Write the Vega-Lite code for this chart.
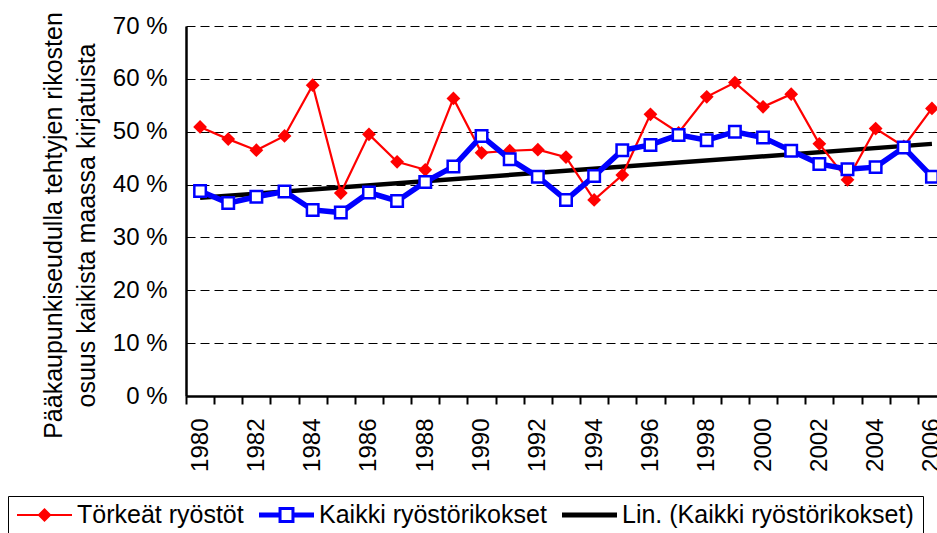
{
  "$schema": "https://vega.github.io/schema/vega-lite/v6.json",
  "autosize": "none",
  "padding": {"left": 186, "top": 26, "right": 0, "bottom": 137},
  "width": 751,
  "height": 370,
  "background": "white",
  "config": {
    "font": "Liberation Sans",
    "view": {"stroke": null},
    "axis": {"labelFont": "Liberation Sans", "titleFont": "Liberation Sans", "labelColor": "#000", "titleColor": "#000", "domainColor": "#000", "tickColor": "#000"},
    "legend": {"labelFont": "Liberation Sans"}
  },
  "data": {
    "values": [
      {"year": 1980, "series": "Törkeät ryöstöt", "value": 50.9},
      {"year": 1981, "series": "Törkeät ryöstöt", "value": 48.6},
      {"year": 1982, "series": "Törkeät ryöstöt", "value": 46.5},
      {"year": 1983, "series": "Törkeät ryöstöt", "value": 49.2},
      {"year": 1984, "series": "Törkeät ryöstöt", "value": 58.8},
      {"year": 1985, "series": "Törkeät ryöstöt", "value": 38.4},
      {"year": 1986, "series": "Törkeät ryöstöt", "value": 49.5},
      {"year": 1987, "series": "Törkeät ryöstöt", "value": 44.3},
      {"year": 1988, "series": "Törkeät ryöstöt", "value": 42.8},
      {"year": 1989, "series": "Törkeät ryöstöt", "value": 56.3},
      {"year": 1990, "series": "Törkeät ryöstöt", "value": 46.0},
      {"year": 1991, "series": "Törkeät ryöstöt", "value": 46.4},
      {"year": 1992, "series": "Törkeät ryöstöt", "value": 46.6},
      {"year": 1993, "series": "Törkeät ryöstöt", "value": 45.2},
      {"year": 1994, "series": "Törkeät ryöstöt", "value": 37.1},
      {"year": 1995, "series": "Törkeät ryöstöt", "value": 41.8},
      {"year": 1996, "series": "Törkeät ryöstöt", "value": 53.3},
      {"year": 1997, "series": "Törkeät ryöstöt", "value": 49.8},
      {"year": 1998, "series": "Törkeät ryöstöt", "value": 56.6},
      {"year": 1999, "series": "Törkeät ryöstöt", "value": 59.3},
      {"year": 2000, "series": "Törkeät ryöstöt", "value": 54.7},
      {"year": 2001, "series": "Törkeät ryöstöt", "value": 57.1},
      {"year": 2002, "series": "Törkeät ryöstöt", "value": 47.7},
      {"year": 2003, "series": "Törkeät ryöstöt", "value": 40.9},
      {"year": 2004, "series": "Törkeät ryöstöt", "value": 50.6},
      {"year": 2005, "series": "Törkeät ryöstöt", "value": 47.2},
      {"year": 2006, "series": "Törkeät ryöstöt", "value": 54.4},
      {"year": 1980, "series": "Kaikki ryöstörikokset", "value": 38.8},
      {"year": 1981, "series": "Kaikki ryöstörikokset", "value": 36.5},
      {"year": 1982, "series": "Kaikki ryöstörikokset", "value": 37.7},
      {"year": 1983, "series": "Kaikki ryöstörikokset", "value": 38.7},
      {"year": 1984, "series": "Kaikki ryöstörikokset", "value": 35.2},
      {"year": 1985, "series": "Kaikki ryöstörikokset", "value": 34.7},
      {"year": 1986, "series": "Kaikki ryöstörikokset", "value": 38.5},
      {"year": 1987, "series": "Kaikki ryöstörikokset", "value": 36.9},
      {"year": 1988, "series": "Kaikki ryöstörikokset", "value": 40.5},
      {"year": 1989, "series": "Kaikki ryöstörikokset", "value": 43.4},
      {"year": 1990, "series": "Kaikki ryöstörikokset", "value": 49.2},
      {"year": 1991, "series": "Kaikki ryöstörikokset", "value": 44.8},
      {"year": 1992, "series": "Kaikki ryöstörikokset", "value": 41.5},
      {"year": 1993, "series": "Kaikki ryöstörikokset", "value": 37.1},
      {"year": 1994, "series": "Kaikki ryöstörikokset", "value": 41.6},
      {"year": 1995, "series": "Kaikki ryöstörikokset", "value": 46.5},
      {"year": 1996, "series": "Kaikki ryöstörikokset", "value": 47.5},
      {"year": 1997, "series": "Kaikki ryöstörikokset", "value": 49.4},
      {"year": 1998, "series": "Kaikki ryöstörikokset", "value": 48.4},
      {"year": 1999, "series": "Kaikki ryöstörikokset", "value": 50.0},
      {"year": 2000, "series": "Kaikki ryöstörikokset", "value": 48.9},
      {"year": 2001, "series": "Kaikki ryöstörikokset", "value": 46.4},
      {"year": 2002, "series": "Kaikki ryöstörikokset", "value": 43.9},
      {"year": 2003, "series": "Kaikki ryöstörikokset", "value": 42.9},
      {"year": 2004, "series": "Kaikki ryöstörikokset", "value": 43.3},
      {"year": 2005, "series": "Kaikki ryöstörikokset", "value": 47.0},
      {"year": 2006, "series": "Kaikki ryöstörikokset", "value": 41.5},
      {"year": 1980, "series": "Lin. (Kaikki ryöstörikokset)", "value": 37.5},
      {"year": 2006, "series": "Lin. (Kaikki ryöstörikokset)", "value": 47.7}
    ]
  },
  "layer": [
    {
      "transform": [{"filter": "datum.series === 'Lin. (Kaikki ryöstörikokset)'"}],
      "mark": {"type": "line", "strokeWidth": 4.5, "clip": false},
      "encoding": {
        "x": {
          "field": "year", "type": "quantitative",
          "scale": {"domain": [1979.5, 2006.18], "nice": false, "zero": false},
          "axis": {
            "orient": "bottom",
            "values": [1979.5, 1980.5, 1981.5, 1982.5, 1983.5, 1984.5, 1985.5, 1986.5, 1987.5, 1988.5, 1989.5, 1990.5, 1991.5, 1992.5, 1993.5, 1994.5, 1995.5, 1996.5, 1997.5, 1998.5, 1999.5, 2000.5, 2001.5, 2002.5, 2003.5, 2004.5, 2005.5],
            "labels": false, "ticks": true, "tickSize": 8, "tickWidth": 2, "tickColor": "#000",
            "domain": true, "domainWidth": 2.5, "domainColor": "#000", "grid": false, "title": null
          }
        },
        "y": {
          "field": "value", "type": "quantitative",
          "scale": {"domain": [0, 70], "nice": false},
          "axis": {
            "values": [0, 10, 20, 30, 40, 50, 60, 70],
            "labelExpr": "datum.value + ' %'",
            "labelFontSize": 24, "labelPadding": 19,
            "ticks": false, "tickSize": 0,
            "domain": true, "domainWidth": 2.5, "domainColor": "#000",
            "grid": true, "gridColor": "#000", "gridDash": [9, 5], "gridWidth": 1, "gridOpacity": 1,
            "title": ["Pääkaupunkiseudulla tehtyjen rikosten", "osuus kaikista maassa kirjatuista"],
            "titleFontSize": 25, "titleFontWeight": "normal", "titleColor": "#000",
            "titleAngle": 270, "titleAlign": "center", "titleBaseline": "alphabetic",
            "titleX": -125, "titleY": 199, "titleLineHeight": 33
          }
        },
        "color": {
          "field": "series", "type": "nominal",
          "scale": {
            "domain": ["Törkeät ryöstöt", "Kaikki ryöstörikokset", "Lin. (Kaikki ryöstörikokset)"],
            "range": ["#FF0000", "#0000FF", "#000000"]
          },
          "legend": {
            "orient": "none", "legendX": -178, "legendY": 470,
            "direction": "horizontal", "columns": 3,
            "title": null, "padding": 9,
            "strokeColor": "#000", "fillColor": "#FFFFFF",
            "symbolSize": 3025, "symbolOffset": 0, "symbolStrokeWidth": 0, "clipHeight": 20,
            "labelFontSize": 25, "labelColor": "#000", "labelOffset": 5, "labelLimit": 600,
            "columnPadding": 15,
            "encode": {
              "symbols": {
                "update": {
                  "shape": {"signal": "datum.value === 'Törkeät ryöstöt' ? 'M-1,-0.04H1V0.04H-1ZM-0.255,0L0,-0.255L0.255,0L0,0.255Z' : datum.value === 'Kaikki ryöstörikokset' ? 'M-1,-0.09H-0.29V0.09H-1ZM0.29,-0.09H1V0.09H0.29ZM-0.29,-0.29H0.29V0.29H-0.29ZM-0.18,-0.18V0.18H0.18V-0.18Z' : 'M-1,-0.087H1V0.087H-1Z'"},
                  "fill": {"signal": "datum.value === 'Törkeät ryöstöt' ? '#FF0000' : datum.value === 'Kaikki ryöstörikokset' ? '#0000FF' : '#000000'"},
                  "fillOpacity": {"value": 1},
                  "strokeWidth": {"value": 0},
                  "size": {"value": 3025},
                  "opacity": {"value": 1}
                }
              }
            }
          }
        }
      }
    },
    {
      "transform": [{"filter": "datum.series === 'Törkeät ryöstöt'"}],
      "mark": {"type": "line", "strokeWidth": 2.2, "clip": false},
      "encoding": {
        "x": {
          "field": "year", "type": "quantitative",
          "axis": {
            "orient": "bottom",
            "values": [1980, 1982, 1984, 1986, 1988, 1990, 1992, 1994, 1996, 1998, 2000, 2002, 2004, 2006],
            "format": "d", "labelAngle": 270, "labelAlign": "right", "labelBaseline": "middle",
            "labelPadding": 22, "labelFontSize": 24, "labelFlush": false, "labelOverlap": false,
            "ticks": false, "tickSize": 0, "domain": false, "grid": false, "title": null
          }
        },
        "y": {"field": "value", "type": "quantitative"},
        "color": {"field": "series", "type": "nominal"}
      }
    },
    {
      "transform": [{"filter": "datum.series === 'Törkeät ryöstöt'"}],
      "mark": {"type": "point", "shape": "diamond", "filled": true, "size": 190, "color": "#FF0000", "opacity": 1, "clip": false},
      "encoding": {
        "x": {"field": "year", "type": "quantitative", "axis": null},
        "y": {"field": "value", "type": "quantitative"}
      }
    },
    {
      "transform": [{"filter": "datum.series === 'Kaikki ryöstörikokset'"}],
      "mark": {"type": "line", "strokeWidth": 5.5, "clip": false},
      "encoding": {
        "x": {"field": "year", "type": "quantitative", "axis": null},
        "y": {"field": "value", "type": "quantitative"},
        "color": {"field": "series", "type": "nominal"}
      }
    },
    {
      "transform": [{"filter": "datum.series === 'Kaikki ryöstörikokset'"}],
      "mark": {"type": "point", "shape": "square", "filled": false, "fill": "#FFFFFF", "fillOpacity": 1, "stroke": "#0000FF", "strokeWidth": 2.5, "size": 132, "opacity": 1, "clip": false},
      "encoding": {
        "x": {"field": "year", "type": "quantitative", "axis": null},
        "y": {"field": "value", "type": "quantitative"}
      }
    }
  ],
  "resolve": {"axis": {"x": "independent"}}
}
